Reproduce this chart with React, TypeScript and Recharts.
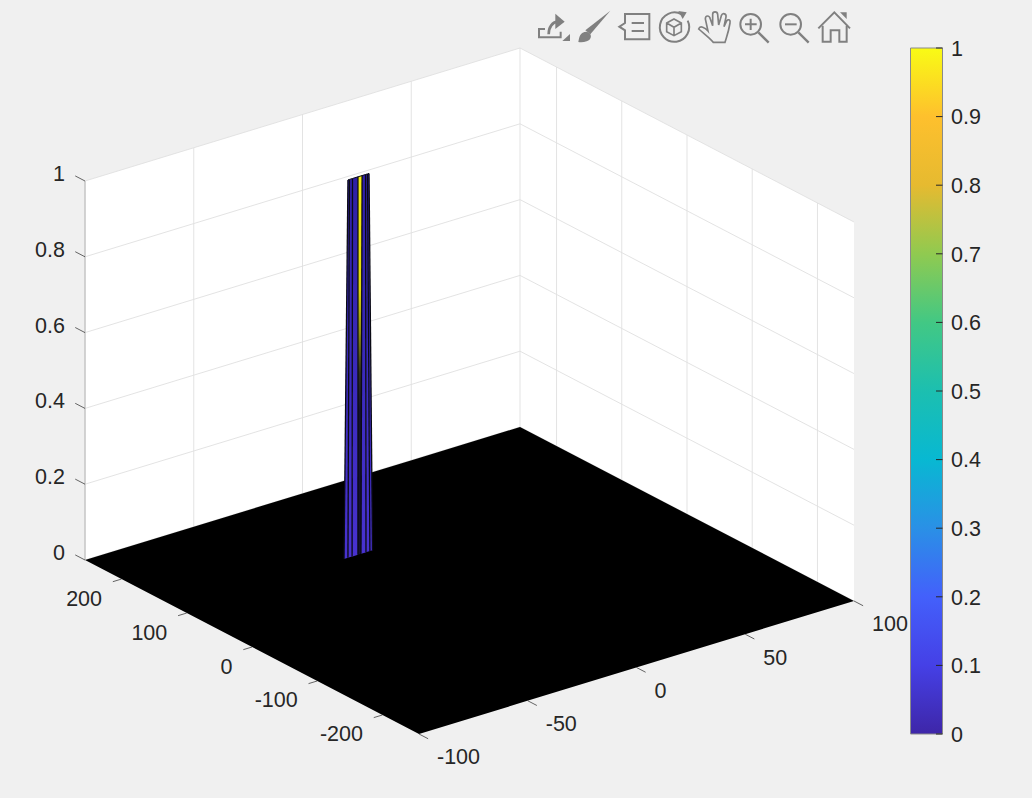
import React from 'react';
import { ComposedChart, Area, Line, Scatter, Bar, XAxis, YAxis } from 'recharts';

// ---- data (values in the chart's own x / y / z units) ----
const xLim = [-100, 100];
const yLim = [-256, 256];
const zLim = [0, 1];
const xTicks = [-100, -50, 0, 50, 100];
const yTicks = [-200, -100, 0, 100, 200];
const zTicks = [0, 0.2, 0.4, 0.6, 0.8, 1];
const colorbarTicks = [0, 0.1, 0.2, 0.3, 0.4, 0.5, 0.6, 0.7, 0.8, 0.9, 1];
const colorbarStops = ['#3e26a8', '#4540e6', '#4360fb', '#2a90e6', '#08b8d2', '#1cbfb0', '#42c884', '#90ca50', '#e6ba30', '#fec02d', '#f9fb15'];
const spikeBaseY = 111;
const spikeTopY = 109;
const spikeBaseX = [-24.4, -22.6, -20.7, -18, -16.6, -14.3, -12.5, -11.3];
const spikeTopX = [-23.2, -22.5, -21.1, -18.6, -16.7, -15.1, -14.2, -13.5];
const spikeFills = ['url(#blueFace)', 'url(#blueFace)', 'url(#blueFace)', 'url(#yellowFace)', 'url(#blueFace)', 'url(#blueFace)', 'url(#blueFace)'];

// ---- view of the box (MATLAB default 3-D view, orthographic) ----
const W = 1032;
const H = 798;
const project = (x: number, y: number, z: number) => ({
  sx: 469.5 + 2.175 * x - 0.6523 * y,
  sy: 580.5 - 0.665 * x - 0.3398 * y - 379 * z,
});

type P = { sx: number; sy: number };

const toBand = (poly: P[]) => {
  const xs = Array.from(new Set(poly.map((p) => p.sx))).sort((a, b) => a - b);
  return xs.map((x) => {
    const hits: number[] = [];
    poly.forEach((a, i) => {
      const b = poly[(i + 1) % poly.length];
      const lo = Math.min(a.sx, b.sx);
      const hi = Math.max(a.sx, b.sx);
      if (x < lo || x > hi) return;
      if (a.sx === b.sx) hits.push(a.sy, b.sy);
      else hits.push(a.sy + ((x - a.sx) / (b.sx - a.sx)) * (b.sy - a.sy));
    });
    return { sx: x, band: [Math.min(...hits), Math.max(...hits)] };
  });
};

const [x0, x1] = xLim;
const [y0, y1] = yLim;
const [z0, z1] = zLim;

const leftWall = toBand([project(x0, y1, z0), project(x1, y1, z0), project(x1, y1, z1), project(x0, y1, z1)]);
const rightWall = toBand([project(x1, y1, z0), project(x1, y0, z0), project(x1, y0, z1), project(x1, y1, z1)]);
const floor = toBand([project(x0, y0, z0), project(x1, y0, z0), project(x1, y1, z0), project(x0, y1, z0)]);

const gridLines: P[][] = [
  ...xTicks.map((x) => [project(x, y1, z0), project(x, y1, z1)]),
  ...yTicks.map((y) => [project(x1, y, z0), project(x1, y, z1)]),
  ...zTicks.map((z) => [project(x0, y1, z), project(x1, y1, z)]),
  ...zTicks.map((z) => [project(x1, y1, z), project(x1, y0, z)]),
];
const zAxisLine = [project(x0, y1, z0), project(x0, y1, z1)];

const tickMarks: P[][] = [
  ...xTicks.map((x) => [project(x, y0, z0), project(x, y0 - 14, z0)]),
  ...yTicks.map((y) => [project(x0, y, z0), project(x0 - 4, y, z0)]),
  ...zTicks.map((z) => [project(x0, y1, z), project(x0, y1 + 15, z)]),
];

const xLabels = xTicks.map((x) => ({ ...project(x, y0, z0), text: String(x), anchor: 'start', dx: 18, dy: 23.5 }));
const yLabels = yTicks.map((y) => ({ ...project(x0, y, z0), text: String(y), anchor: 'end', dx: -19.5, dy: 19.5 }));
const zLabels = zTicks.map((z) => ({ ...project(x0, y1, z), text: String(z), anchor: 'end', dx: -20, dy: -7 }));

const faces = spikeFills.map((fill, i) => ({
  fill,
  band: toBand([
    project(spikeBaseX[i], spikeBaseY, z0),
    project(spikeBaseX[i + 1], spikeBaseY, z0),
    project(spikeTopX[i + 1], spikeTopY, z1),
    project(spikeTopX[i], spikeTopY, z1),
  ]),
}));
const faceEdges: P[][] = spikeBaseX.map((bx, i) => [project(bx, spikeBaseY, z0), project(spikeTopX[i], spikeTopY, z1)]);
const faceTop = spikeTopX.map((x) => project(x, spikeTopY, z1));

const FONT = '"Liberation Sans", Arial, sans-serif';
const TEXT = '#262626';
const FONT_SIZE = 21.5;

const LabelShape = (p: any) => (
  <text
    x={p.cx + p.payload.dx}
    y={p.cy + p.payload.dy}
    textAnchor={p.payload.anchor}
    dominantBaseline="central"
    fontFamily={FONT}
    fontSize={FONT_SIZE}
    fill={TEXT}
  >
    {p.payload.text}
  </text>
);

const Axes = () => (
  <>
    <XAxis type="number" dataKey="sx" domain={[0, W]} hide allowDataOverflow />
    <YAxis type="number" dataKey="sy" domain={[0, H]} reversed hide allowDataOverflow />
  </>
);

const layer: React.CSSProperties = { position: 'absolute', left: 0, top: 0 };
const margin = { top: 0, right: 0, bottom: 0, left: 0 };

const ColorbarTick = (p: any) => (
  <g>
    <line x1={p.x - 6.5} x2={p.x} y1={p.y} y2={p.y} stroke={TEXT} strokeWidth={1} />
    <text x={p.x + 8.5} y={p.y + 0.7} dominantBaseline="central" fontFamily={FONT} fontSize={FONT_SIZE} fill={TEXT}>
      {String(p.payload.value)}
    </text>
  </g>
);

const Toolbar = () => (
  <svg width={330} height={50} viewBox="0 0 990 150" style={{ position: 'absolute', left: 530, top: 5 }} fill="none" stroke="#808080" strokeWidth={6}>
    {/* export */}
    <path d="M45 72 H27 V97 H92 V80" />
    <path d="M56 88 C56 65 68 52 82 50" strokeWidth={8} />
    <path d="M76 26 L104 50 L76 72 Z" fill="#808080" stroke="none" />
    <path d="M97 108 L120 108 L120 87 Z" fill="#808080" stroke="none" />
    {/* brush */}
    <path d="M241 17 L181 88 L166 76 Z" fill="#808080" stroke="none" />
    <path d="M145 111 C148 96 150 80 170 80 C188 84 186 104 170 109 C162 112 152 112 145 111 Z" fill="#808080" stroke="none" />
    {/* legend */}
    <path d="M285 27 H358 V103 H285 V76 L268 65 L285 54 Z" />
    <path d="M305 54 H342 M305 78 H342" />
    {/* rotate */}
    <path d="M455 28 A44 44 0 1 0 473 47" />
    <path d="M445 18 L470 22 L458 42 Z" fill="#808080" stroke="none" />
    <path d="M432 42 L454 54 V80 L432 92 L410 80 V54 Z M410 54 L432 67 L454 54 M432 67 V92" strokeWidth={5} />
    {/* hand */}
    <path d="M550 112 C535 95 520 85 506 72 C510 60 525 68 534 78 L526 42 C526 30 538 30 541 42 L548 62 L548 28 C548 18 562 18 563 28 L566 60 L574 32 C578 22 590 26 588 36 L582 65 L590 48 C596 40 602 46 600 54 C596 80 590 95 585 112 Z" strokeWidth={5} />
    {/* zoom in */}
    <circle cx={662} cy={58} r={31} />
    <path d="M685 82 L716 113" strokeWidth={7} />
    <path d="M645 58 H680 M662 41 V75" />
    {/* zoom out */}
    <circle cx={782} cy={58} r={31} />
    <path d="M805 82 L836 113" strokeWidth={7} />
    <path d="M765 58 H800" />
    {/* home */}
    <path d="M865 70 L913 22 L960 70" />
    <path d="M878 62 V110 H902 V76 H928 V110 H950 V62" />
    <path d="M930 22 L950 22 L950 42 Z" fill="#808080" stroke="none" />
  </svg>
);

export default function App() {
  return (
    <div style={{ position: 'absolute', left: 0, top: 0, width: W, height: H, background: '#f0f0f0', overflow: 'hidden' }}>
      {/* walls and grid */}
      <div style={layer}>
        <ComposedChart width={W} height={H} margin={margin}>
          {Axes()}
          <Area data={leftWall} dataKey="band" type="linear" fill="#ffffff" fillOpacity={1} stroke="none" isAnimationActive={false} />
          <Area data={rightWall} dataKey="band" type="linear" fill="#ffffff" fillOpacity={1} stroke="none" isAnimationActive={false} />
          {gridLines.map((seg, i) => (
            <Line key={i} data={seg} dataKey="sy" type="linear" stroke="#e0e0e0" strokeWidth={0.9} dot={false} activeDot={false} isAnimationActive={false} />
          ))}
          <Line data={zAxisLine} dataKey="sy" type="linear" stroke="#a8a8a8" strokeWidth={0.8} dot={false} activeDot={false} isAnimationActive={false} />
        </ComposedChart>
      </div>
      {/* surface */}
      <div style={layer}>
        <ComposedChart width={W} height={H} margin={margin}>
          <defs>
            <linearGradient id="blueFace" x1="0" y1="0" x2="0" y2="1">
              <stop offset="0" stopColor="#2f20a6" />
              <stop offset="0.5" stopColor="#3a2abc" />
              <stop offset="1" stopColor="#4832d0" />
            </linearGradient>
            <linearGradient id="yellowFace" x1="0" y1="0" x2="0" y2="1">
              <stop offset="0" stopColor="#f8f010" />
              <stop offset="0.3" stopColor="#e0d80c" />
              <stop offset="0.42" stopColor="#8a8a10" />
              <stop offset="0.52" stopColor="#30301c" />
              <stop offset="0.62" stopColor="#14102c" />
              <stop offset="1" stopColor="#14102c" />
            </linearGradient>
          </defs>
          {Axes()}
          <Area data={floor} dataKey="band" type="linear" fill="#000000" fillOpacity={1} stroke="none" isAnimationActive={false} />
          {faces.map((f, i) => (
            <Area key={i} data={f.band} dataKey="band" type="linear" fill={f.fill} fillOpacity={1} stroke="none" isAnimationActive={false} />
          ))}
          {faceEdges.map((seg, i) => (
            <Line key={i} data={seg} dataKey="sy" type="linear" stroke="#0a0a14" strokeWidth={1.3} dot={false} activeDot={false} isAnimationActive={false} />
          ))}
          <Line data={faceTop} dataKey="sy" type="linear" stroke="#0a0a14" strokeWidth={1} dot={false} activeDot={false} isAnimationActive={false} />
          {tickMarks.map((seg, i) => (
            <Line key={i} data={seg} dataKey="sy" type="linear" stroke={TEXT} strokeWidth={0.7} dot={false} activeDot={false} isAnimationActive={false} />
          ))}
          <Scatter data={xLabels} shape={LabelShape} isAnimationActive={false} />
          <Scatter data={yLabels} shape={LabelShape} isAnimationActive={false} />
          <Scatter data={zLabels} shape={LabelShape} isAnimationActive={false} />
        </ComposedChart>
      </div>
      {/* colorbar */}
      <div style={{ position: 'absolute', left: 900, top: 0 }}>
        <ComposedChart
          width={132}
          height={H}
          data={[{ name: 'c', v: 1 }]}
          margin={{ top: 48, bottom: H - 734, left: 10.5, right: 0 }}
          barCategoryGap={0}
        >
          <defs>
            <linearGradient id="parula" x1="0" y1="1" x2="0" y2="0">
              {colorbarStops.map((c, i) => (
                <stop key={i} offset={i / (colorbarStops.length - 1)} stopColor={c} />
              ))}
            </linearGradient>
          </defs>
          <XAxis dataKey="name" hide />
          <YAxis
            orientation="right"
            type="number"
            domain={[0, 1]}
            ticks={colorbarTicks}
            interval={0}
            width={89.5}
            axisLine={false}
            tickLine={false}
            tickSize={0}
            tickMargin={0}
            tick={ColorbarTick}
          />
          <Bar dataKey="v" fill="url(#parula)" stroke="#8a8a8a" strokeWidth={1} isAnimationActive={false} />
        </ComposedChart>
      </div>
      <Toolbar />
    </div>
  );
}
